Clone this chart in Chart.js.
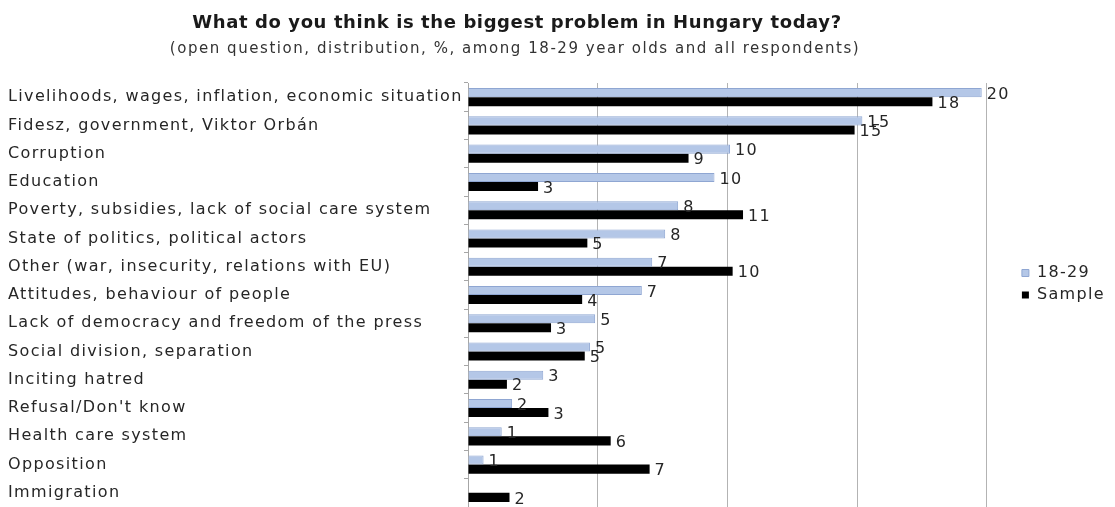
<!DOCTYPE html>
<html><head><meta charset="utf-8">
<script src="https://cdn.jsdelivr.net/npm/chart.js@4.4.1/dist/chart.umd.min.js"></script>
<style>
html,body{margin:0;padding:0;background:#fff;}
#wrap{position:relative;width:1115px;height:507px;overflow:hidden;}
canvas{position:absolute;left:0;top:0;}
#title{position:absolute;left:0;top:11px;width:1034px;text-align:center;font:bold 18px "DejaVu Sans";letter-spacing:0.6px;line-height:22px;color:#1a1a1a;white-space:nowrap;}
#sub{position:absolute;left:0;top:39px;width:1030px;text-align:center;font:15px "DejaVu Sans";letter-spacing:1.55px;line-height:18px;color:#333;white-space:nowrap;}
</style></head>
<body>
<div id="wrap">
<canvas id="c" width="1115" height="507"></canvas>
<div id="title">What do you think is the biggest problem in Hungary today?</div>
<div id="sub">(open question, distribution, %, among 18-29 year olds and all respondents)</div>
</div>
<script>
const categories = [
  'Livelihoods, wages, inflation, economic situation',
  'Fidesz, government, Viktor Orbán',
  'Corruption',
  'Education',
  'Poverty, subsidies, lack of social care system',
  'State of politics, political actors',
  'Other (war, insecurity, relations with EU)',
  'Attitudes, behaviour of people',
  'Lack of democracy and freedom of the press',
  'Social division, separation',
  'Inciting hatred',
  "Refusal/Don't know",
  'Health care system',
  'Opposition',
  'Immigration'
];
const seriesNames = ['18-29', 'Sample'];
const youth  = [19.8, 15.2, 10.1, 9.5, 8.1, 7.6, 7.1, 6.7, 4.9, 4.7, 2.9, 1.7, 1.3, 0.6, 0];
const sample = [17.9, 14.9, 8.5, 2.7, 10.6, 4.6, 10.2, 4.4, 3.2, 4.5, 1.5, 3.1, 5.5, 7.0, 1.6];
const youthLabels  = [20, 15, 10, 10, 8, 8, 7, 7, 5, 5, 3, 2, 1, 1, null];
const sampleLabels = [18, 15, 9, 3, 11, 5, 10, 4, 3, 5, 2, 3, 6, 7, 2];
const xTicks = [0, 5, 10, 15, 20];

const labelSets = [youthLabels, sampleLabels];
const FONT = 'DejaVu Sans';
const TEXT = '#262626';

Chart.defaults.font.family = FONT;
Chart.defaults.font.size = 16;
Chart.defaults.color = TEXT;

const spacing = {
  id: 'spacing',
  afterInit(chart) { try { chart.ctx.letterSpacing = '1.35px'; } catch (e) {} }
};

const valueLabels = {
  id: 'valueLabels',
  afterDatasetsDraw(chart) {
    const ctx = chart.ctx;
    ctx.save();
    ctx.font = '16px "' + FONT + '"';
    ctx.fillStyle = TEXT;
    ctx.textAlign = 'left';
    ctx.textBaseline = 'middle';
    chart.data.datasets.forEach((ds, i) => {
      const meta = chart.getDatasetMeta(i);
      meta.data.forEach((bar, j) => {
        const t = labelSets[i][j];
        if (t === null || t === undefined) return;
        ctx.fillText(String(t), bar.x + 5, bar.y + 2);
      });
    });
    ctx.restore();
  }
};

new Chart(document.getElementById('c'), {
  type: 'bar',
  data: {
    labels: categories,
    datasets: [
      { label: seriesNames[0], data: youth, backgroundColor: '#b4c7e7', borderColor: '#8fa6d2', borderWidth: 1, borderSkipped: 'left',
        categoryPercentage: 0.64, barPercentage: 1 },
      { label: seriesNames[1], data: sample, backgroundColor: '#000000', borderColor: '#000000', borderWidth: 0,
        categoryPercentage: 0.64, barPercentage: 1 }
    ]
  },
  options: {
    indexAxis: 'y',
    responsive: false,
    animation: false,
    events: [],
    layout: { padding: { top: 83, left: 8, right: 0, bottom: 0 } },
    scales: {
      x: {
        min: 0, max: 20,
        afterBuildTicks(s) { s.ticks = xTicks.map(v => ({ value: v })); },
        afterFit(s) { s.height = 0; s.paddingLeft = 0; s.paddingRight = 0; },
        ticks: { display: false },
        grid: { color: '#b3b3b3', drawTicks: false, lineWidth: 1 },
        border: { display: false }
      },
      y: {
        ticks: { color: TEXT, padding: 3, crossAlign: 'far', font: { size: 16 } },
        grid: { offset: true, drawOnChartArea: false, tickLength: 4, color: '#a6a6a6' },
        border: { display: true, color: '#a6a6a6' },
        afterFit(s) { s.width = 460; s.paddingTop = 0; s.paddingBottom = 0; }
      },
      gap: {
        type: 'linear', position: 'right', display: true,
        ticks: { display: false }, grid: { display: false }, border: { display: false },
        afterFit(s) { s.width = 29; s.paddingTop = 0; s.paddingBottom = 0; }
      }
    },
    plugins: {
      legend: {
        position: 'right', align: 'start',
        title: { display: true, text: '', padding: { top: 156.8, bottom: 0 } },
        labels: { boxWidth: 7, boxHeight: 7, padding: 6, color: TEXT, font: { size: 16 } }
      },
      tooltip: { enabled: false }
    }
  },
  plugins: [spacing, valueLabels]
});
</script>
</body></html>
